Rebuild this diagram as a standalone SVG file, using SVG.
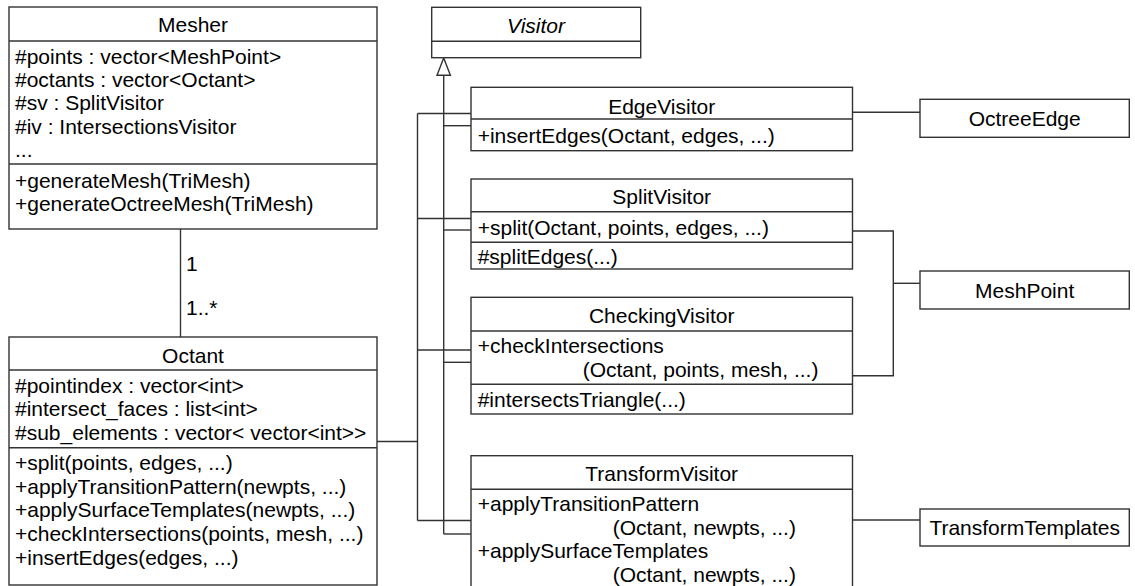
<svg xmlns="http://www.w3.org/2000/svg" width="1135" height="586" viewBox="0 0 1135 586">
<style>
.box{fill:#fff;stroke:#333;stroke-width:1.4}
.ln{fill:none;stroke:#333;stroke-width:1.4}
text{font-family:"Liberation Sans",Arial,Helvetica,sans-serif;font-size:21px;fill:#000}
.c{text-anchor:middle}
.it{font-style:italic}
</style>
<rect width="1135" height="586" fill="#fff"/>
<g id="connectors">
  <line class="ln" x1="180.5" y1="229" x2="180.5" y2="337"/>
  <text x="186" y="271" font-size="20">1</text>
  <text x="186" y="315" font-size="20">1..*</text>
  <polyline class="ln" points="377,441.5 417.5,441.5"/>
  <line class="ln" x1="417.5" y1="113.5" x2="417.5" y2="520.5"/>
  <line class="ln" x1="417.5" y1="113.5" x2="471" y2="113.5"/>
  <line class="ln" x1="417.5" y1="218.5" x2="471" y2="218.5"/>
  <line class="ln" x1="417.5" y1="350" x2="471" y2="350"/>
  <line class="ln" x1="417.5" y1="520.5" x2="471" y2="520.5"/>
  <line class="ln" x1="443.7" y1="75" x2="443.7" y2="534"/>
  <line class="ln" x1="443.7" y1="125.7" x2="471" y2="125.7"/>
  <line class="ln" x1="443.7" y1="230" x2="471" y2="230"/>
  <line class="ln" x1="443.7" y1="362.3" x2="471" y2="362.3"/>
  <line class="ln" x1="443.7" y1="534" x2="471" y2="534"/>
  <polygon class="box" points="443.7,58 437,75.3 450.4,75.3"/>
  <line class="ln" x1="852.5" y1="112.3" x2="920" y2="112.3"/>
  <polyline class="ln" points="852.5,231 893.3,231 893.3,375.7 852.5,375.7"/>
  <line class="ln" x1="893.3" y1="283.3" x2="920" y2="283.3"/>
  <line class="ln" x1="852.5" y1="520" x2="920" y2="520"/>
</g>
<g id="Mesher">
  <rect class="box" x="9" y="7" width="368" height="222"/>
  <line class="ln" x1="9" y1="41" x2="377" y2="41"/>
  <line class="ln" x1="9" y1="164" x2="377" y2="164"/>
  <text class="c" x="193" y="32">Mesher</text>
  <text x="15" y="64">#points : vector&lt;MeshPoint&gt;</text>
  <text x="15" y="87">#octants : vector&lt;Octant&gt;</text>
  <text x="15" y="110">#sv : SplitVisitor</text>
  <text x="15" y="134">#iv : IntersectionsVisitor</text>
  <text x="15" y="157">...</text>
  <text x="15" y="188">+generateMesh(TriMesh)</text>
  <text x="15" y="211">+generateOctreeMesh(TriMesh)</text>
</g>
<g id="Octant">
  <rect class="box" x="9" y="337" width="368" height="248"/>
  <line class="ln" x1="9" y1="370" x2="377" y2="370"/>
  <line class="ln" x1="9" y1="447.7" x2="377" y2="447.7"/>
  <text class="c" x="193" y="363">Octant</text>
  <text x="15" y="393">#pointindex : vector&lt;int&gt;</text>
  <text x="15" y="416">#intersect_faces : list&lt;int&gt;</text>
  <text x="15" y="440">#sub_elements : vector&lt; vector&lt;int&gt;&gt;</text>
  <text x="15" y="470">+split(points, edges, ...)</text>
  <text x="15" y="494">+applyTransitionPattern(newpts, ...)</text>
  <text x="15" y="517">+applySurfaceTemplates(newpts, ...)</text>
  <text x="15" y="541">+checkIntersections(points, mesh, ...)</text>
  <text x="15" y="565">+insertEdges(edges, ...)</text>
</g>
<g id="Visitor">
  <rect class="box" x="431.7" y="7.3" width="209" height="50.4"/>
  <line class="ln" x1="431.7" y1="41.3" x2="640.7" y2="41.3"/>
  <text class="c it" x="536" y="33">Visitor</text>
</g>
<g id="EdgeVisitor">
  <rect class="box" x="471" y="87.3" width="381.5" height="63.4"/>
  <line class="ln" x1="471" y1="119" x2="852.5" y2="119"/>
  <text class="c" x="661.7" y="114">EdgeVisitor</text>
  <text x="477.7" y="143">+insertEdges(Octant, edges, ...)</text>
</g>
<g id="SplitVisitor">
  <rect class="box" x="471" y="179" width="381.5" height="90"/>
  <line class="ln" x1="471" y1="211.7" x2="852.5" y2="211.7"/>
  <line class="ln" x1="471" y1="242.3" x2="852.5" y2="242.3"/>
  <text class="c" x="661.7" y="204">SplitVisitor</text>
  <text x="477.7" y="235">+split(Octant, points, edges, ...)</text>
  <text x="477.7" y="264">#splitEdges(...)</text>
</g>
<g id="CheckingVisitor">
  <rect class="box" x="471" y="297.3" width="381.5" height="116.7"/>
  <line class="ln" x1="471" y1="331" x2="852.5" y2="331"/>
  <line class="ln" x1="471" y1="384.3" x2="852.5" y2="384.3"/>
  <text class="c" x="661.7" y="323">CheckingVisitor</text>
  <text x="477.7" y="353">+checkIntersections</text>
  <text x="582.7" y="377">(Octant, points, mesh, ...)</text>
  <text x="477.7" y="407">#intersectsTriangle(...)</text>
</g>
<g id="TransformVisitor">
  <rect class="box" x="471" y="455.7" width="381.5" height="150"/>
  <line class="ln" x1="471" y1="489.3" x2="852.5" y2="489.3"/>
  <text class="c" x="661.7" y="481">TransformVisitor</text>
  <text x="477.7" y="511">+applyTransitionPattern</text>
  <text x="612.7" y="535">(Octant, newpts, ...)</text>
  <text x="477.7" y="558">+applySurfaceTemplates</text>
  <text x="612.7" y="582">(Octant, newpts, ...)</text>
</g>
<g id="OctreeEdge">
  <rect class="box" x="920" y="99.3" width="209.3" height="38"/>
  <text class="c" x="1024.7" y="126">OctreeEdge</text>
</g>
<g id="MeshPoint">
  <rect class="box" x="920" y="271" width="209.3" height="38"/>
  <text class="c" x="1024.7" y="297.5">MeshPoint</text>
</g>
<g id="TransformTemplates">
  <rect class="box" x="920" y="509" width="209.3" height="37"/>
  <text class="c" x="1024.7" y="535">TransformTemplates</text>
</g>
</svg>
